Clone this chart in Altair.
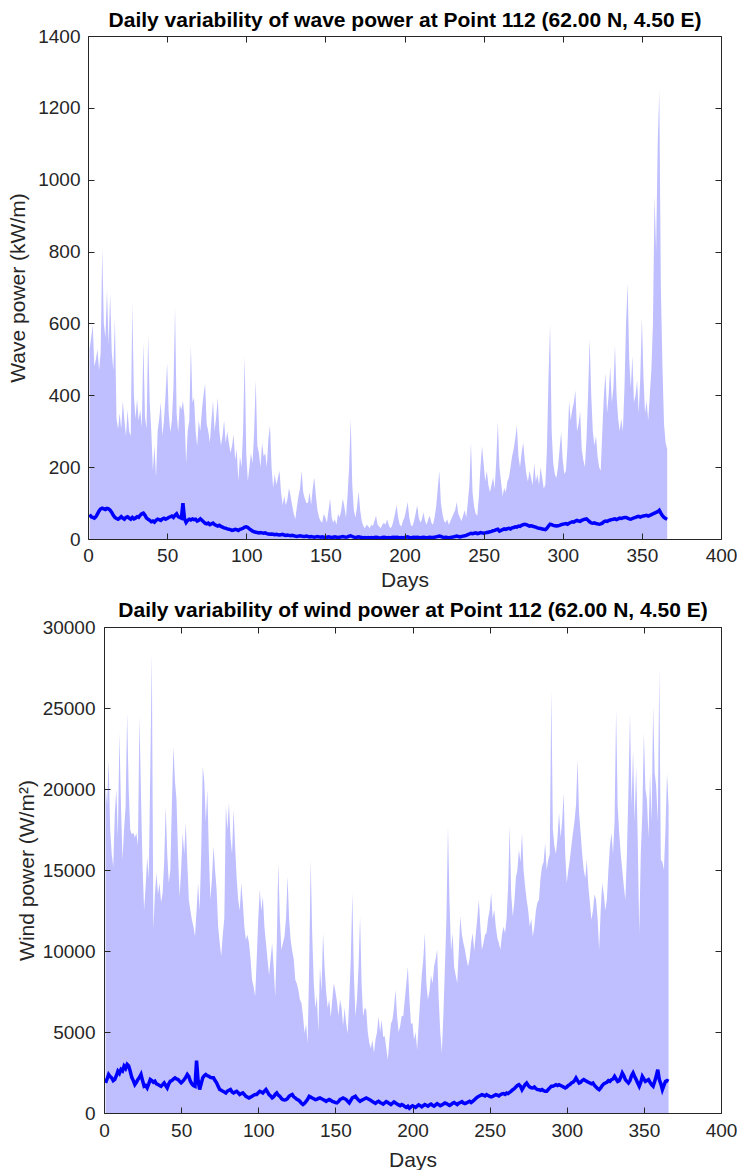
import altair as alt
import pandas as pd

# Daily peak (shaded) and daily mean (line) wave power, kW/m, days 1..366
wave_peak = [
    528, 560, 596, 480, 500, 528, 470, 520, 809, 600,
    560, 693, 540, 683, 520, 470, 615, 335, 306, 350,
    306, 384, 330, 287, 360, 300, 287, 654, 400, 335,
    390, 330, 360, 310, 548, 340, 306, 567, 380, 300,
    190, 260, 171, 300, 335, 380, 287, 330, 400, 490,
    350, 297, 330, 420, 644, 350, 297, 374, 360, 384,
    340, 210, 300, 330, 538, 380, 393, 300, 258, 330,
    300, 360, 400, 432, 320, 300, 268, 330, 384, 300,
    340, 393, 300, 260, 287, 330, 268, 300, 268, 240,
    258, 290, 220, 250, 161, 230, 200, 300, 509, 240,
    161, 200, 239, 210, 300, 442, 260, 239, 200, 268,
    230, 239, 200, 280, 316, 200, 142, 180, 150, 170,
    190, 130, 94, 120, 94, 110, 142, 120, 94, 70,
    55, 90, 120, 142, 190, 130, 113, 100, 100, 130,
    95, 140, 171, 120, 80, 60, 50, 45, 70, 60,
    45, 80, 113, 60, 45, 55, 40, 70, 60, 80,
    113, 90, 60, 120, 200, 335, 150, 80, 60, 90,
    132, 80, 50, 36, 30, 40, 36, 30, 40, 36,
    50, 65, 40, 35, 30, 40, 45, 40, 55, 40,
    30, 35, 50, 70, 94, 60, 40, 35, 50, 60,
    80, 103, 60, 40, 35, 50, 70, 94, 60, 45,
    55, 74, 50, 40, 55, 65, 45, 40, 60, 90,
    140, 190, 100, 70, 50, 45, 55, 40, 50, 60,
    70, 80, 103, 70, 60, 50, 65, 80, 60, 100,
    150, 268, 130, 90, 70, 65, 120, 200, 258, 210,
    160, 190, 150, 130, 150, 171, 140, 220, 326, 200,
    160, 120, 142, 130, 160, 171, 200, 230, 250, 280,
    316, 230, 200, 240, 268, 220, 180, 160, 190, 170,
    150, 210, 160, 180, 150, 200, 170, 140, 152, 250,
    450, 596, 300, 210, 180, 170, 200, 250, 297, 220,
    180, 190, 260, 384, 330, 360, 380, 413, 300, 320,
    355, 250, 220, 200, 280, 400, 557, 400, 300, 260,
    287, 230, 200, 190, 300, 400, 461, 350, 400, 480,
    380, 420, 538, 400, 335, 300, 335, 300, 420, 600,
    712, 500, 420, 509, 380, 400, 442, 350, 450, 615,
    450, 350, 384, 330, 400, 471, 600, 954, 800, 1100,
    1248, 700, 480, 320, 268, 250,
]
wave_mean = [
    68, 62, 60, 58, 62, 70, 78, 84, 86, 84,
    82, 85, 84, 80, 74, 66, 60, 57, 55, 58,
    62, 58, 55, 60, 62, 58, 55, 60, 56, 58,
    62, 60, 66, 70, 72, 66, 58, 55, 52, 48,
    50, 47, 52, 55, 54, 52, 56, 58, 55, 57,
    60, 62, 64, 60, 66, 70, 62, 60, 58, 100,
    56, 46, 52, 55, 53, 56, 54, 55, 50, 52,
    56, 52, 48, 44, 42, 44, 40, 42, 44, 40,
    38, 36, 38, 35, 33, 31, 30, 28, 27, 26,
    24, 25, 27, 26, 24, 27, 28, 30, 33, 34,
    32, 28, 25, 22, 20, 19, 18, 17, 18, 17,
    16, 17, 15, 14, 13, 14, 13, 12, 13, 12,
    11, 12, 13, 11, 10, 11, 10, 9, 10, 9,
    8, 7, 8, 9, 8, 7, 7, 8, 7, 6,
    7, 6, 5, 6, 7, 6, 5, 6, 5, 4,
    5, 6, 5, 4, 5, 6, 5, 4, 5, 6,
    7, 6, 5, 6, 8, 9, 7, 5, 4, 5,
    6, 5, 4, 3, 4, 3, 4, 3, 4, 3,
    4, 5, 4, 3, 3, 4, 5, 4, 3, 4,
    3, 4, 5, 4, 5, 4, 3, 4, 3, 4,
    5, 6, 4, 3, 4, 5, 4, 5, 4, 3,
    4, 5, 4, 3, 4, 5, 4, 4, 5, 6,
    7, 8, 7, 5, 4, 5, 4, 3, 4, 5,
    6, 7, 8, 7, 6, 7, 8, 9, 10, 12,
    14, 16, 15, 16, 17, 15, 16, 18, 17, 16,
    17, 18, 19, 20, 21, 23, 24, 26, 27, 22,
    24, 26, 28, 27, 29, 30, 28, 31, 32, 34,
    33, 36, 35, 38, 40, 41, 40, 38, 36, 37,
    36, 34, 33, 31, 30, 29, 28, 27, 26, 30,
    36, 41, 40, 38, 37, 36, 37, 38, 40, 41,
    42, 43, 41, 44, 46, 48, 47, 50, 52, 50,
    49, 52, 54, 55, 56, 52, 48, 45, 44, 45,
    43, 42, 41, 42, 44, 48, 50, 49, 51, 53,
    54, 55, 56, 54, 56, 58, 57, 59, 60, 60,
    58, 56, 55, 57, 59, 60, 62, 63, 61, 63,
    64, 65, 66, 64, 66, 68, 70, 72, 74, 76,
    80, 72, 65, 60, 57, 55,
]

# Daily peak (shaded) and daily mean (line) wind power, W/m2, days 1..366
wind_peak = [
    20300, 19000, 21800, 17500, 16000, 15200, 18500, 20000, 17000, 23460,
    19000, 15640, 17500, 18930, 24690, 20000, 17490, 17200, 17300, 17000,
    17280, 16500, 24490, 19500, 15230, 12550, 14000, 15800, 14500, 21000,
    28400, 11320, 13500, 14810, 13500, 14200, 13000, 13580, 15500, 18930,
    16000, 14200, 15000, 19000, 22630, 20500, 19340, 16000, 13370, 15000,
    17280, 16000, 17900, 15500, 13170, 12500, 11930, 11500, 10900, 12500,
    14200, 12500, 16000, 21400, 20500, 18000, 19960, 16000, 13170, 14500,
    16460, 15000, 13790, 11500, 10500, 9670, 11000, 12000, 18930, 17500,
    19140, 17000, 16000, 18720, 16500, 14500, 13170, 12500, 14200, 13000,
    11500, 10700, 11000, 10490, 9500, 8230, 7800, 7200, 9500, 12000,
    13790, 12500, 13370, 11500, 10490, 9500, 8500, 9500, 10490, 9000,
    7200, 10500, 15430, 12000, 10080, 10500, 10900, 12000, 14610, 12000,
    10700, 10000, 9500, 8230, 8000, 7600, 7000, 6790, 6000, 4940,
    5500, 4300, 9000, 15640, 11000, 8020, 6500, 7200, 5000, 9050,
    7500, 11110, 9000, 7500, 6500, 7000, 5900, 7000, 8020, 7500,
    6900, 6000, 7000, 6500, 5400, 6500, 5500, 4900, 7000, 9500,
    13580, 8500, 5970, 7000, 9000, 12140, 8000, 5970, 6500, 6380,
    5000, 4320, 4000, 4500, 3700, 4500, 5000, 5970, 5000, 5760,
    4700, 4730, 4000, 3290, 4500, 5500, 5760, 6500, 7610, 6000,
    5000, 5350, 6000, 5970, 7000, 8000, 9050, 7000, 5500, 5560,
    4500, 5000, 3910, 5500, 7000, 8500, 9500, 11110, 8000, 7000,
    7500, 8500, 8000, 9050, 9500, 10080, 7000, 5000, 3700, 6000,
    9000, 12000, 17700, 13000, 10000, 11110, 9000, 8500, 8020, 10000,
    12140, 11000, 10500, 10080, 9500, 9050, 9500, 10500, 11110, 10000,
    11000, 12000, 13170, 11500, 10080, 10500, 11000, 11110, 12000, 12500,
    13580, 12000, 12550, 11500, 10800, 10500, 10080, 11000, 11500, 11110,
    12000, 14000, 17700, 13500, 12140, 13000, 14500, 15000, 16250, 15500,
    17280, 15000, 14000, 13170, 12500, 11520, 12000, 10900, 11500, 12500,
    13000, 13170, 14500, 15230, 15500, 16670, 15000, 15640, 16000, 26130,
    17500, 16460, 16000, 17000, 18520, 17000, 18000, 19750, 16000, 14200,
    15000, 15640, 16500, 17280, 18000, 19000, 21810, 18500, 17280, 16000,
    15000, 14500, 15640, 14000, 13000, 11930, 12500, 13500, 13170, 12000,
    10080, 12500, 14200, 13500, 12500, 13170, 15000, 16500, 17280, 16000,
    18000, 24900, 19000, 17280, 16000, 15000, 14000, 13170, 16000, 20000,
    24690, 19000, 22430, 18000, 21400, 17000, 11110, 16000, 18500, 23460,
    20000, 19340, 17000, 20990, 18000, 25100, 21000, 20160, 18000, 27370,
    15640, 15500, 15020, 17500, 20990, 19000,
]
wind_mean = [
    1860, 2100, 2380, 2250, 2170, 2000, 2070, 2300, 2580, 2450,
    2690, 2600, 2890, 2750, 3000, 2900, 2580, 2200, 2000, 1760,
    1900, 2070, 2200, 2380, 2000, 1650, 1700, 1550, 1800, 2070,
    2000, 1900, 1960, 1800, 1760, 1700, 1650, 1750, 1860, 1700,
    1550, 1800, 1960, 2000, 2100, 2170, 2100, 2070, 1950, 1860,
    1950, 2070, 2200, 2380, 2250, 1960, 1800, 1700, 1650, 3240,
    2000, 1450, 1800, 2170, 2300, 2380, 2300, 2270, 2200, 2170,
    2170, 2000, 1860, 1650, 1450, 1400, 1340, 1300, 1240, 1350,
    1400, 1450, 1300, 1240, 1300, 1340, 1250, 1140, 1200, 1240,
    1150, 1030, 980, 930, 980, 1030, 1100, 1140, 1140, 1250,
    1340, 1300, 1240, 1350, 1450, 1300, 1140, 1050, 930, 1000,
    1150, 1240, 1100, 1030, 900, 830, 800, 830, 900, 1030,
    1100, 1140, 1000, 930, 850, 800, 720, 600, 520, 600,
    720, 850, 1030, 980, 930, 880, 830, 850, 900, 930,
    880, 830, 780, 720, 780, 830, 780, 720, 680, 640,
    620, 700, 830, 880, 930, 880, 830, 720, 620, 780,
    930, 980, 1030, 900, 800, 720, 780, 830, 880, 930,
    880, 830, 780, 700, 650, 600, 680, 720, 650, 600,
    550, 620, 700, 650, 580, 520, 600, 680, 620, 550,
    500, 450, 520, 480, 400, 350, 420, 300, 380, 450,
    400, 350, 420, 500, 450, 380, 450, 520, 480, 420,
    500, 550, 480, 420, 500, 580, 520, 450, 500, 560,
    620, 580, 520, 460, 520, 600, 650, 580, 520, 600,
    650, 700, 620, 580, 620, 680, 720, 650, 720, 800,
    900, 980, 1030, 1080, 1130, 1100, 1050, 1130, 1080, 1030,
    1000, 1030, 1080, 1130, 1100, 1050, 1130, 1180, 1200, 1150,
    1230, 1200, 1280, 1350, 1440, 1500, 1600, 1700, 1750, 1650,
    1440, 1600, 1750, 1850, 1700, 1600, 1550, 1540, 1600, 1500,
    1450, 1440, 1400, 1450, 1380, 1340, 1340, 1450, 1550, 1650,
    1650, 1700, 1750, 1700, 1750, 1700, 1650, 1600, 1540, 1600,
    1700, 1750, 1850, 1900, 2000, 2160, 2000, 1850, 1900, 2000,
    2060, 2000, 1950, 1900, 1850, 1800, 1850, 1700, 1600, 1500,
    1440, 1550, 1700, 1800, 1850, 1900, 2000, 1950, 2060, 2100,
    2260, 2100, 1950, 2000, 2200, 2470, 2300, 2060, 1950, 1850,
    2000, 2300, 2470, 2250, 2060, 1850, 1650, 1900, 2260, 2100,
    1950, 2000, 2060, 1900, 1750, 1650, 1950, 2260, 2670, 2060,
    1800, 1440, 1700, 1950, 2000, 1950,
]

x_ticks = [0, 50, 100, 150, 200, 250, 300, 350, 400]
wave_ticks = [0, 200, 400, 600, 800, 1000, 1200, 1400]
wind_ticks = [0, 5000, 10000, 15000, 20000, 25000, 30000]

wave_title = "Daily variability of wave power at Point 112 (62.00 N, 4.50 E)"
wind_title = "Daily variability of wind power at Point 112 (62.00 N, 4.50 E)"

FONT = "Liberation Sans"
FILL = "#bfbfff"
LINE = "#0000ff"
INK = "#262626"
TICK = 6
TICK_FS = 19
LABEL_FS = 21


def series(values):
    return pd.DataFrame({"day": list(range(1, len(values) + 1)), "value": values})


def panel(peak, mean, title, y_title, y_ticks, width, height, x0,
          title_y, y_title_x, days_y, pad_x, pad_y, cut_top, cut_bottom):
    peak_df = series(peak)
    mean_df = series(mean)
    xs = alt.Scale(domain=[0, 400], range=[x0, width], nice=False, zero=False)
    ys = alt.Scale(domain=[0, y_ticks[-1]], nice=False, zero=False)
    mid_x = x0 + (width - x0) / 2
    bare = dict(grid=False, labels=False, title=None, zindex=1)

    # shaded daily peak with the labelled bottom / left axes
    fill = alt.Chart(peak_df).mark_area(color=FILL, opacity=1).encode(
        x=alt.X("day:Q", scale=xs, axis=alt.Axis(
            orient="bottom", values=x_ticks, format="d", grid=False,
            ticks=False, tickSize=0, domain=True, domainColor=INK,
            labelPadding=pad_x, labelFlush=False, labelOverlap=False,
            labelFontSize=TICK_FS, labelColor=INK,
            title="Days", titleFontSize=LABEL_FS, titleFontWeight="normal",
            titleColor=INK, titleX=mid_x, titleY=days_y,
            titleBaseline="alphabetic", titleAlign="center", zindex=1)),
        y=alt.Y("value:Q", scale=ys, axis=alt.Axis(
            orient="left", offset=-x0, values=y_ticks, format="d", grid=False,
            ticks=False, tickSize=0, domain=True, domainColor=INK,
            labelPadding=pad_y, labelFlush=False, labelOverlap=False,
            labelFontSize=TICK_FS, labelColor=INK,
            title=y_title, titleFontSize=LABEL_FS, titleFontWeight="normal",
            titleColor=INK, titleAngle=270, titleX=y_title_x,
            titleY=height / 2, titleBaseline="middle", titleAlign="center",
            zindex=1)),
    )

    # daily mean line, carrying the inward ticks of the bottom / left edges
    line = alt.Chart(mean_df).mark_line(color=LINE, strokeWidth=3.5).encode(
        x=alt.X("day:Q", scale=xs, axis=alt.Axis(
            orient="bottom", offset=-TICK, values=x_ticks, domain=False,
            ticks=True, tickSize=TICK, tickColor=INK, **bare)),
        y=alt.Y("value:Q", scale=ys, axis=alt.Axis(
            orient="left", offset=-(x0 + TICK), values=y_ticks, domain=False,
            ticks=True, tickSize=TICK, tickColor=INK, **bare)),
    )

    # inward ticks of the top / right edges
    top_ticks = alt.Chart(mean_df).mark_line(strokeOpacity=0).encode(
        x=alt.X("day:Q", scale=xs, axis=alt.Axis(
            orient="top", offset=-TICK, values=x_ticks, domain=False,
            ticks=True, tickSize=TICK, tickColor=INK, **bare)),
        y=alt.Y("value:Q", scale=ys, axis=alt.Axis(
            orient="right", offset=-TICK, values=y_ticks, domain=False,
            ticks=True, tickSize=TICK, tickColor=INK, **bare)),
    )

    # top / right box edges; the panel heading rides on the top edge
    box = alt.Chart(mean_df).mark_line(strokeOpacity=0).encode(
        x=alt.X("day:Q", scale=xs, axis=alt.Axis(
            orient="top", values=x_ticks, domain=True, domainColor=INK,
            ticks=False, labels=False, grid=False, zindex=1,
            title=title, titleFontSize=LABEL_FS, titleFontWeight="bold",
            titleColor="#000000", titleX=mid_x, titleY=title_y,
            titleBaseline="alphabetic", titleAlign="center")),
        y=alt.Y("value:Q", scale=ys, axis=alt.Axis(
            orient="right", values=y_ticks, domain=True, domainColor=INK,
            ticks=False, labels=False, title=None, grid=False, zindex=1)),
    )

    # transparent guide that fixes the panel's outer extent
    guide = alt.Chart(pd.DataFrame({"k": [0]})).mark_rule(strokeOpacity=0).encode(
        x=alt.value(-88), y=alt.value(cut_top), y2=alt.value(cut_bottom)
    )

    return (
        alt.layer(fill, line, top_ticks, box, guide)
        .resolve_axis(x="independent", y="independent")
        .properties(width=width, height=height)
    )


top = panel(wave_peak, wave_mean, wave_title, "Wave power (kW/m)", wave_ticks,
            width=633, height=503, x0=0, title_y=-10, y_title_x=-70,
            days_y=47, pad_x=7, pad_y=8, cut_top=-36, cut_bottom=559)
bottom = panel(wind_peak, wind_mean, wind_title, "Wind power (W/m\u00b2)", wind_ticks,
               width=633, height=486, x0=16, title_y=-11, y_title_x=-77,
               days_y=53, pad_x=8, pad_y=9, cut_top=-32, cut_bottom=0)

chart = (
    alt.vconcat(top, bottom, spacing=0)
    .properties(padding=0, background="white")
    .configure(font=FONT)
    .configure_view(strokeWidth=0)
)

chart.save("out.html", embed_options={"renderer": "svg", "actions": False})
